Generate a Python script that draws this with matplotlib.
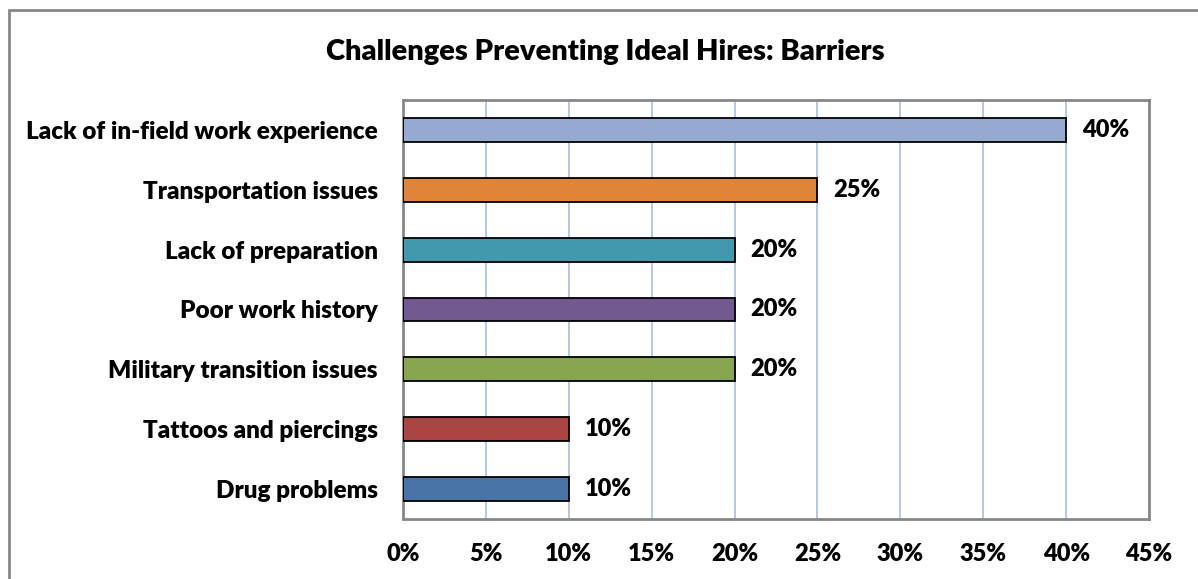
import matplotlib.pyplot as plt
from matplotlib.patches import Rectangle

categories = ["Lack of in-field work experience", "Transportation issues",
              "Lack of preparation", "Poor work history",
              "Military transition issues", "Tattoos and piercings",
              "Drug problems"]
values = [40, 25, 20, 20, 20, 10, 10]
colors = ["#95a9d1", "#e0843a", "#4299ad", "#725a91", "#88a54f", "#ab4543", "#4874a8"]
ticks = [0, 5, 10, 15, 20, 25, 30, 35, 40, 45]

plt.rcParams['font.family'] = ['Lato', 'DejaVu Sans']
W = "heavy"

fig = plt.figure(figsize=(11.98, 5.79), dpi=100)
ax = fig.add_axes([403/1198, 1 - 519/579, 746/1198, 419/579])

# outer chart frame, open on right and bottom
fig.patches.append(Rectangle((9/1198, -0.05), 1.2, 1 - 10/579 + 0.05,
                             transform=fig.transFigure, fill=False,
                             edgecolor="#878787", linewidth=2))

y = list(range(len(categories)))[::-1]
bars = ax.barh(y, values, height=0.4, color=colors, edgecolor="black", linewidth=1.3, zorder=3)
for yi, v in zip(y, values):
    ax.annotate(f"{v}%", (v, yi), xytext=(11.5, 0), textcoords="offset points",
                va="center", ha="left", fontsize=17, fontweight=W)

ax.set_xlim(0, 45)
ax.set_ylim(-0.5, 6.5)
ax.set_xticks(ticks)
ax.set_xticklabels([f"{t}%" for t in ticks], fontsize=17, fontweight=W)
ax.set_yticks(y)
ax.set_yticklabels(categories, fontsize=17.5, fontweight=W)
ax.tick_params(axis="x", length=0, pad=17)
ax.tick_params(axis="y", length=0, pad=18)
ax.xaxis.grid(True, color="#a9c5ea", linewidth=1.3, zorder=0)
ax.set_axisbelow(True)
for s in ax.spines.values():
    s.set_color("#878787")
    s.set_linewidth(2)

fig.text(605/1198, 1 - 52/579, "Challenges Preventing Ideal Hires: Barriers",
         ha="center", va="center", fontsize=21, fontweight=W)

fig.savefig("out.png", dpi=100)
